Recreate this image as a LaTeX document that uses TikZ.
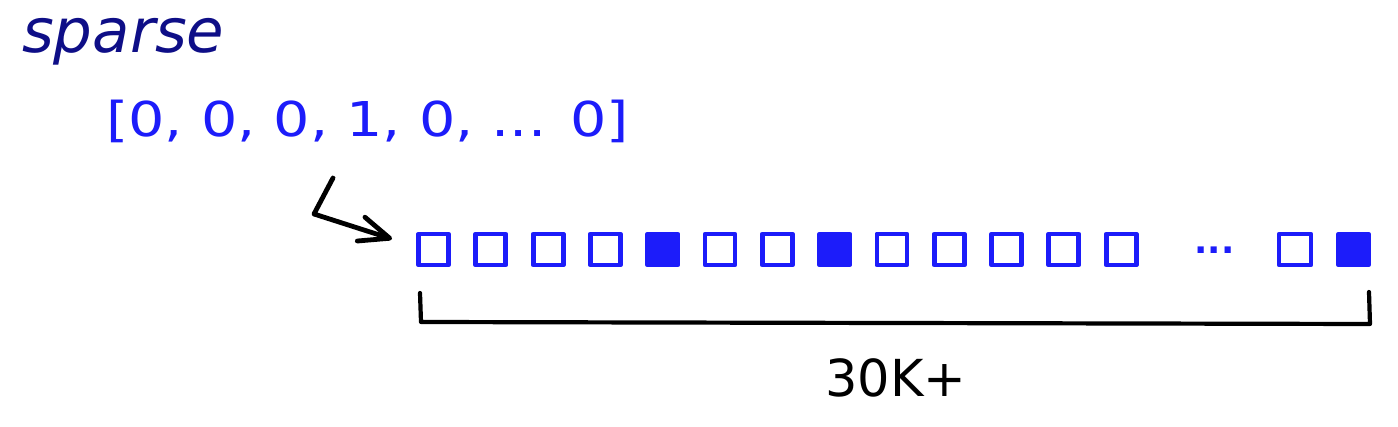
\documentclass[tikz,border=0pt]{standalone}
\usepackage{fontspec}
\usepackage{graphicx}
\setmainfont{DejaVu Sans}
\usetikzlibrary{arrows.meta}
\definecolor{navy}{RGB}{14,14,135}
\definecolor{vecblue}{RGB}{28,28,250}
\tikzset{
  cell/.style={draw=vecblue, line width=4.8pt, line join=round, minimum width=30pt, minimum height=31pt, inner sep=0pt},
  oncell/.style={cell, fill=vecblue},
  ink/.style={line width=4.8pt, line cap=round, line join=round, black},
  brace/.style={line width=4.2pt, line cap=round, line join=round, black},
}
\begin{document}
\begin{tikzpicture}[x=1pt, y=-1pt]
\useasboundingbox[fill=white] (0,0) rectangle (1398,427);
% title
\node[anchor=base west, inner sep=0pt, text=navy] (title) at (22,53)
  {\fontsize{61}{66}\selectfont\itshape sparse};
% vector text
\node[anchor=base west, inner sep=0pt, text=vecblue] (vec) at (106,137)
  {\scalebox{1.19}[1]{\fontsize{48}{54}\selectfont [0, 0, 0, 1, 0, ... 0]}};
% cells
\foreach \i/\s in {0/cell,1/cell,2/cell,3/cell,4/oncell,5/cell,6/cell,7/oncell,8/cell,9/cell,10/cell,11/cell,12/cell}{
  \node[\s] (c\i) at ({433.5+57.3*\i},249.5) {};
}
\node[anchor=base, inner sep=0pt, text=vecblue] (dots) at (1214.5,253.5)
  {\fontsize{35}{40}\selectfont\bfseries ...};
\node[cell, minimum width=32pt] (c13) at (1295,249.5) {};
\node[oncell] (c14) at (1353.5,249.5) {};
% arrow
\coordinate (a0) at (333,178);
\coordinate (a1) at (314,214);
\coordinate (a2) at (392,239);
\draw[ink, -{Straight Barb[length=30pt, width=25pt, line width=4.8pt, round]}] (a0) -- (a1) -- (a2);
% bracket
\coordinate (b0) at (420,293);
\coordinate (b1) at (421,322);
\coordinate (b2) at (1370,324);
\coordinate (b3) at (1369,292);
\draw[brace] (b0) -- (b1) -- (b2) -- (b3);
% count
\node[anchor=base west, inner sep=0pt, text=black] (count) at (825,397)
  {\fontsize{51}{56}\selectfont 30K+};
\end{tikzpicture}
\end{document}
